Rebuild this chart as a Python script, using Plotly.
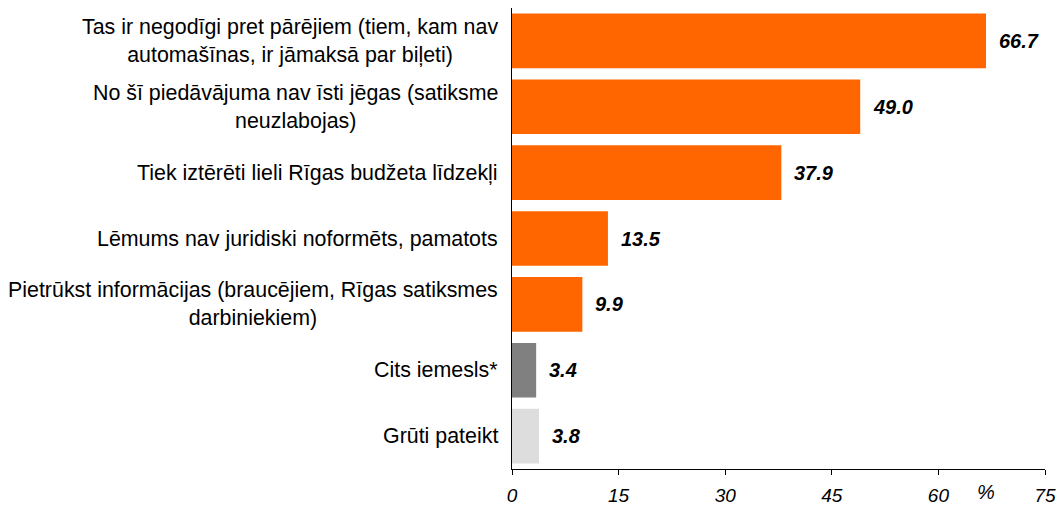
import plotly.graph_objects as go

categories = [
    "Tas ir negodīgi pret pārējiem (tiem, kam nav<br>automašīnas, ir jāmaksā par biļeti)",
    "No šī piedāvājuma nav īsti jēgas (satiksme<br>neuzlabojas)",
    "Tiek iztērēti lieli Rīgas budžeta līdzekļi",
    "Lēmums nav juridiski noformēts, pamatots",
    "Pietrūkst informācijas (braucējiem, Rīgas satiksmes<br>darbiniekiem)",
    "Cits iemesls*",
    "Grūti pateikt",
]
values = [66.7, 49.0, 37.9, 13.5, 9.9, 3.4, 3.8]
bar_colors = ["#FF6600", "#FF6600", "#FF6600", "#FF6600", "#FF6600", "#808080", "#DDDDDD"]
tick_vals = [0, 15, 30, 45, 60, 75]
axis_unit = "%"

FONT = "Liberation Sans, Arial, sans-serif"

fig = go.Figure()
fig.add_trace(go.Bar(
    x=values, y=list(range(len(categories))), orientation="h",
    marker=dict(color=bar_colors, line=dict(width=0)),
    hoverinfo="skip",
))

ann = []
for i, (cat, v) in enumerate(zip(categories, values)):
    ann.append(dict(
        x=0, xref="paper", y=i, yref="y", text=cat, showarrow=False,
        xanchor="right", align="center", xshift=-12,
        font=dict(family=FONT, size=21.4, color="#000000"),
    ))
    ann.append(dict(
        x=v, xref="x", y=i, yref="y", text="<b><i>%.1f</i></b>" % v,
        showarrow=False, xanchor="left", xshift=11,
        font=dict(family=FONT, size=20, color="#000000"),
    ))

ann.append(dict(
    x=0.89, xref="paper", y=0, yref="paper", yanchor="middle", yshift=-23,
    text="<i>" + axis_unit + "</i>",
    showarrow=False, xanchor="center", font=dict(family=FONT, size=20, color="#000000"),
))

fig.update_layout(
    width=1059, height=506,
    margin=dict(l=512, r=14, t=8, b=37, autoexpand=False),
    paper_bgcolor="white", plot_bgcolor="white",
    bargap=0.17,
    showlegend=False,
    annotations=ann,
    xaxis=dict(
        range=[0, 75], tickvals=tick_vals, ticktext=["<i>%d</i>" % t for t in tick_vals],
        showgrid=False, zeroline=False, showline=True, linecolor="#000000", linewidth=1,
        ticks="outside", ticklen=5, tickcolor="#000000", ticklabelstandoff=4,
        tickfont=dict(family=FONT, size=19, color="#000000"), automargin=False,
    ),
    yaxis=dict(
        range=[len(categories) - 0.5, -0.5],
        showticklabels=False, showgrid=False, zeroline=False,
        showline=True, linecolor="#000000", linewidth=1, ticks="", automargin=False,
    ),
)

fig.write_html(
    "out.html",
    config={"displayModeBar": False, "responsive": False},
    post_script="document.body.style.margin='0';document.body.style.overflow='hidden';",
)
